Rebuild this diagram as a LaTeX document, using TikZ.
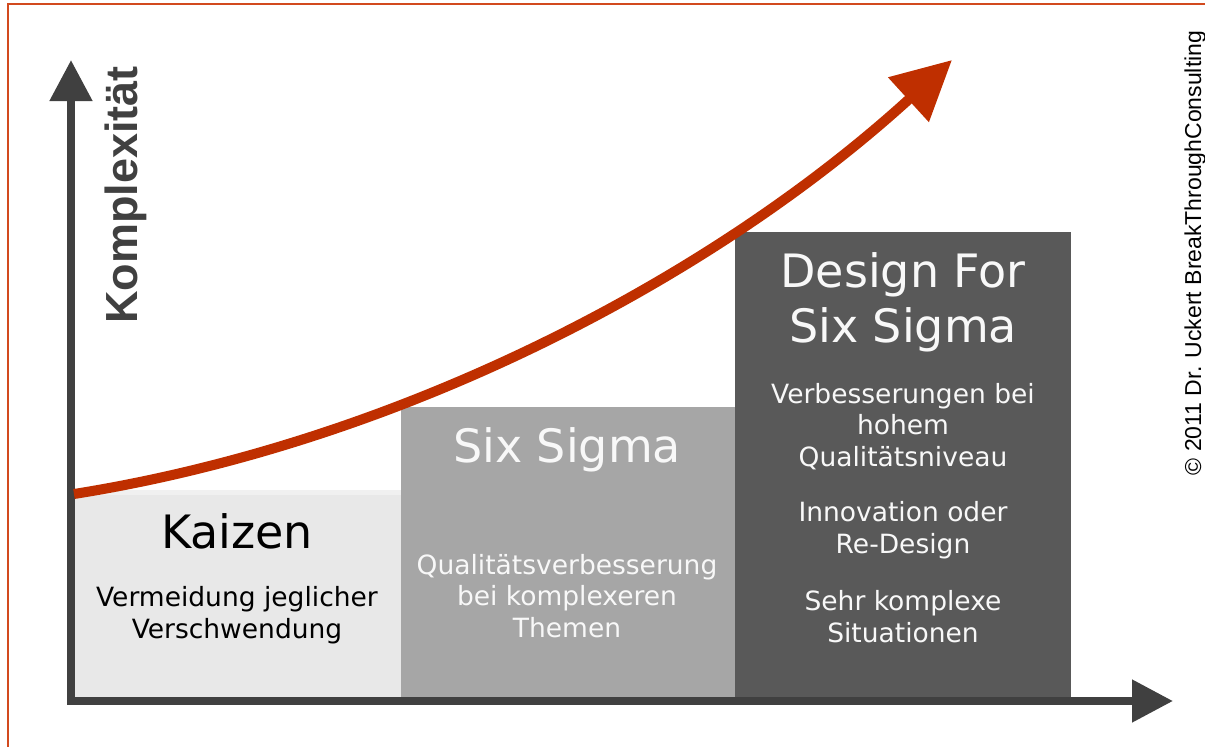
\documentclass[tikz,border=0pt]{standalone}
\usepackage{fontspec}
\setmainfont{DejaVu Sans}
\newfontfamily\arialfont{Liberation Sans}
\usetikzlibrary{arrows.meta}
\definecolor{framecol}{RGB}{210,74,30}
\definecolor{axiscol}{RGB}{64,64,64}
\definecolor{curvecol}{RGB}{191,47,0}
\definecolor{kaizencol}{RGB}{232,232,232}
\definecolor{kaizentop}{RGB}{240,240,240}
\definecolor{sixcol}{RGB}{166,166,166}
\definecolor{dfsscol}{RGB}{89,89,89}
\definecolor{lighttext}{RGB}{248,248,248}
\tikzset{
  titletext/.style={font=\fontsize{46}{55}\selectfont, anchor=base, align=center},
  bodytext/.style={font=\fontsize{26.5}{31.5}\selectfont, anchor=base, align=center},
  axisline/.style={draw=axiscol, line width=8pt, line join=miter,
    {Triangle[length=41pt,width=41pt]}-{Triangle[length=41pt,width=41pt]}},
  growth/.style={draw=curvecol, line width=10pt, -{Triangle[length=59pt,width=58pt]}}
}
\begin{document}
\begin{tikzpicture}[x=1pt,y=-1pt]
\useasboundingbox (0,0) rectangle (1205,747);
% frame
\draw[framecol, line width=2pt] (8,747) -- (8,4) -- (1205,4);
% boxes
\fill[kaizencol] (74,490) rectangle (401,697);
\fill[kaizentop] (74,490) rectangle (401,495);
\fill[sixcol] (401,407) rectangle (735,697);
\fill[dfsscol] (735,232) rectangle (1071,697);
% axes
\coordinate (ytip) at (71,60);
\coordinate (origin) at (71,701);
\coordinate (xtip) at (1173,701);
\draw[axisline] (ytip) -- (origin) -- (xtip);
% growth curve
\coordinate (c0) at (74,494);
\coordinate (c1) at (401,442);
\coordinate (c2) at (713,278);
\coordinate (c3) at (952,60);
\draw[growth] (c0) .. controls (c1) and (c2) .. (c3);
% Kaizen (anchor = baseline of last line)
\node[titletext, text=black] (kaizen) at (237,548) {Kaizen};
\node[bodytext, text=black] (kaizenbody) at (237,638) {Vermeidung jeglicher\\Verschwendung};
% Six Sigma
\node[titletext, text=lighttext] (six) at (567,462) {Six Sigma};
\node[bodytext, text=lighttext] (sixbody) at (567,637) {Qualitätsverbesserung\\bei komplexeren\\Themen};
% DFSS
\node[titletext, text=lighttext] (dfss) at (903,342) {Design For\\Six Sigma};
\node[bodytext, text=lighttext] (dfssa) at (903,466) {Verbesserungen bei\\hohem\\Qualitätsniveau};
\node[bodytext, text=lighttext] (dfssb) at (903,553) {Innovation oder\\Re-Design};
\node[bodytext, text=lighttext] (dfssc) at (903,642) {Sehr komplexe\\Situationen};
% axis label
\node[font=\arialfont\bfseries\fontsize{45}{54}\selectfont, text=axiscol, rotate=90, anchor=base] (ylabel) at (137,195) {Komplexität};
% copyright
\node[font=\arialfont\fontsize{23}{27}\selectfont, text=black, rotate=90, anchor=base] (copy) at (1201,253) {© 2011 Dr. Uckert BreakThroughConsulting};
\end{tikzpicture}
\end{document}
